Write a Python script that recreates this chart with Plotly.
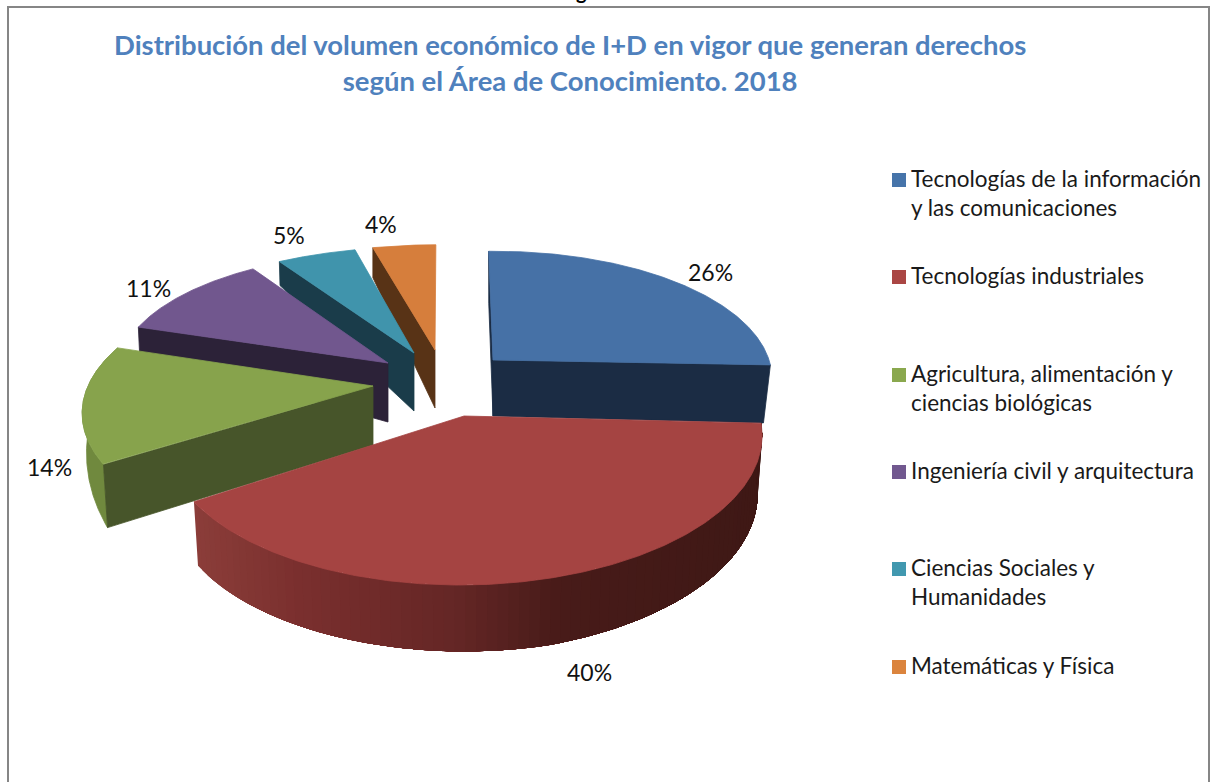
import numpy as np
import plotly.graph_objects as go

# ---- data ----
categories = ["Tecnologías de la información<br>y las comunicaciones", "Tecnologías industriales",
              "Agricultura, alimentación y<br>ciencias biológicas", "Ingeniería civil y arquitectura",
              "Ciencias Sociales y<br>Humanidades", "Matemáticas y Física"]
values = [26, 40, 14, 11, 5, 4]
title_text = "Distribución del volumen económico de I+D en vigor que generan derechos<br>según el Área de Conocimiento. 2018"

# ---- style ----
FONT = "Lato, Carlito, Calibri, sans-serif"
top_colors = ["#4671a6", "#a54442", "#87a34c", "#71578e", "#4094ac", "#d67e3c"]
legend_colors = ["#4674aa", "#aa4644", "#8aa84e", "#71588f", "#4198af", "#db843d"]
wall_colors = ["#1b2c44", None, "#47552a", "#2c2238", "#1a3c4a", "#583316"]
outer_colors = ["#1b2c44", None, "#70893e", "#2c2238", "#1a3c4a", "#583316"]

# exploded-slice projection: apex x, y, half-width, depth, perspective, shear, roll, wall heights
geom = [
    dict(ax=493, ay=360, A=275, B=125, k=.15, c=-5, d=-3, h=(52, 56, 58), hx=.975),
    dict(ax=464, ay=416, A=295, B=144.5, k=.145, c=0, d=-2, h=(58, 67, 64), hx=.985),
    dict(ax=373, ay=386, A=285, B=131, k=.2, c=0, d=0, h=(63, 35, 20), hx=.985),
    dict(ax=388, ay=363, A=269, B=119, k=.08, c=0, d=0, h=(26, 26, 26), hx=.995),
    dict(ax=414, ay=353, A=291, B=122, k=.15, c=5, d=0, h=(24, 24, 24), hx=.995),
    dict(ax=435, ay=350, A=290, B=121, k=.15, c=1, d=0, h=(30, 30, 30), hx=1.0),
]
apex_h = [56, 58, 59, 59, 58, 58]
label_pos = [(710, 272), (589, 672), (49, 467), (148, 288), (289, 235), (381, 224)]
legend_y = [180, 277, 375, 472, 569, 667]


def top_pts(g, th):
    X, Y = np.sin(th), np.cos(th)
    s = 1 / (1 + g["k"] * Y)
    return g["ax"] + (g["A"] * X + g["c"] * Y) * s, g["ay"] + (g["d"] * X - g["B"] * Y) * s


def bottom_pts(g, th, t0, t1):
    x, y = top_pts(g, th)
    u = (th - t0) / (t1 - t0)
    h0, hm, h1 = g["h"]
    h = np.interp(u, [0, .5, 1], [h0, hm, h1])
    return g["ax"] + (x - g["ax"]) * g["hx"], y + h


def poly(xs, ys, color, width=.8):
    return go.Scatter(x=xs, y=ys, mode="lines", fill="toself", fillcolor=color,
                      line=dict(color=color, width=width), hoverinfo="skip", showlegend=False)


def lerp_color(x):
    stops_x = [190, 300, 460, 560, 770]
    r = np.interp(x, stops_x, [140, 122, 100, 72, 62])
    g = np.interp(x, stops_x, [62, 47, 38, 27, 24])
    b = np.interp(x, stops_x, [58, 46, 37, 25, 21])
    return f"rgb({r:.0f},{g:.0f},{b:.0f})"


total = sum(values)
edges = np.concatenate([[0], np.cumsum(values)]) / total * 2 * np.pi
fig = go.Figure()

for i in [5, 4, 3, 2, 0, 1]:
    g = geom[i]
    t0, t1 = edges[i], edges[i + 1]
    th = np.linspace(t0, t1, 240)
    ax, ay = g["ax"], g["ay"]
    by = ay + apex_h[i]
    # outer wall
    tx, ty = top_pts(g, th)
    bx, by_arc = bottom_pts(g, th, t0, t1)
    if i == 1:
        n = 80
        cuts = np.linspace(0, len(th) - 1, n + 1).astype(int)
        # Painted left to right, each band running on to the far end, so no seams show.
        for a, b in zip(cuts[::-1][1:], cuts[::-1][:-1]):
            xs = list(tx[:b + 1]) + list(bx[:b + 1][::-1])
            ys = list(ty[:b + 1]) + list(by_arc[:b + 1][::-1])
            fig.add_trace(poly(xs + xs[:1], ys + ys[:1], lerp_color(tx[(a + b) // 2]), width=0))
    elif i == 2:
        xs = list(tx) + list(bx[::-1])
        ys = list(ty) + list(by_arc[::-1])
        fig.add_trace(poly(xs + xs[:1], ys + ys[:1], outer_colors[i]))
    # cut walls
    if wall_colors[i]:
        fig.add_trace(poly([ax, tx[0], bx[0], ax, ax], [ay, ty[0], by_arc[0], by, ay], wall_colors[i]))
        if i == 0:
            fig.add_trace(poly([ax, tx[-1], bx[-1], ax, ax], [ay, ty[-1], by_arc[-1], by, ay], wall_colors[i]))
    # top face
    xs = [ax] + list(tx) + [ax]
    ys = [ay] + list(ty) + [ay]
    fig.add_trace(poly(xs, ys, top_colors[i]))

# legend keys
fig.add_trace(go.Scatter(x=[899] * 6, y=legend_y, mode="markers",
                         marker=dict(symbol="square", size=14, color=legend_colors, line=dict(width=0)),
                         hoverinfo="skip", showlegend=False))

ann = []
for (px, py), v in zip(label_pos, values):
    ann.append(dict(x=px, y=py, text=f"{v}%", showarrow=False, xanchor="center", yanchor="middle",
                    font=dict(family=FONT, size=23, color="#111111")))
for c, y in zip(categories, legend_y):
    ann.append(dict(x=909, y=y - 17, text=c, showarrow=False, xanchor="left", yanchor="top", align="left",
                    font=dict(family=FONT, size=22.5, color="#1a1a1a")))
ann.append(dict(x=570, y=26, text=title_text, showarrow=False, xanchor="center", yanchor="top", align="center",
                font=dict(family=FONT, size=27.45, color="#4f81bd", weight="bold")))
ann.append(dict(x=581, xref="x", y=1 + 9 / 782, yref="paper", text="g", showarrow=False,
                xanchor="center", yanchor="middle",
                font=dict(family=FONT, size=20, color="#000000", weight="bold")))

fig.update_layout(
    width=1212, height=782, margin=dict(l=0, r=0, t=0, b=0),
    paper_bgcolor="white", plot_bgcolor="white",
    xaxis=dict(range=[0, 1212], visible=False, fixedrange=True),
    yaxis=dict(range=[782, 0], visible=False, fixedrange=True),
    annotations=ann,
    shapes=[dict(type="path", path="M 8 782 L 8 7 L 1209 7 L 1209 782",
                 line=dict(color="#868686", width=2), layer="below")],
)
fig.write_html("out.html", config=dict(displayModeBar=False),
               post_script="document.body.style.margin='0';document.body.style.overflow='hidden';")
